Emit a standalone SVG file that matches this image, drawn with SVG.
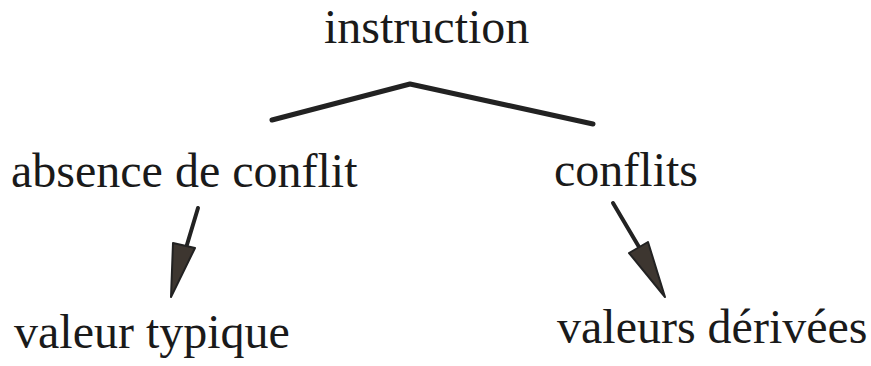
<svg xmlns="http://www.w3.org/2000/svg" width="871" height="366" viewBox="0 0 871 366">
<style>
.t{font-family:"Liberation Serif","Times New Roman",serif;font-size:48px;fill:#1a1a1a}
.ln{fill:none;stroke:#222;stroke-width:5;stroke-linecap:round;stroke-linejoin:round}
.sh{stroke:#222;stroke-width:4;stroke-linecap:round}
.hd{fill:#3d3630;stroke:#222;stroke-width:2;stroke-linejoin:round}
</style>
<rect width="871" height="366" fill="#fff"/>
<g id="instruction"><text class="t" x="324" y="43">instruction</text></g>
<g id="absence"><text class="t" x="11" y="187">absence de conflit</text></g>
<g id="conflits"><text class="t" x="554" y="186">conflits</text></g>
<g id="typique"><text class="t" x="14" y="348">valeur typique</text></g>
<g id="derivees"><text class="t" x="557" y="343">valeurs dérivées</text></g>
<g id="connectors">
<polyline class="ln" points="272,120 410,84 593,124"/>
<line class="sh" x1="198" y1="208" x2="186" y2="248"/>
<polygon class="hd" points="173,243 195,248 171,297"/>
<line class="sh" x1="613" y1="203" x2="639" y2="247"/>
<polygon class="hd" points="648,242 629,253 665,297"/>
</g>
</svg>
